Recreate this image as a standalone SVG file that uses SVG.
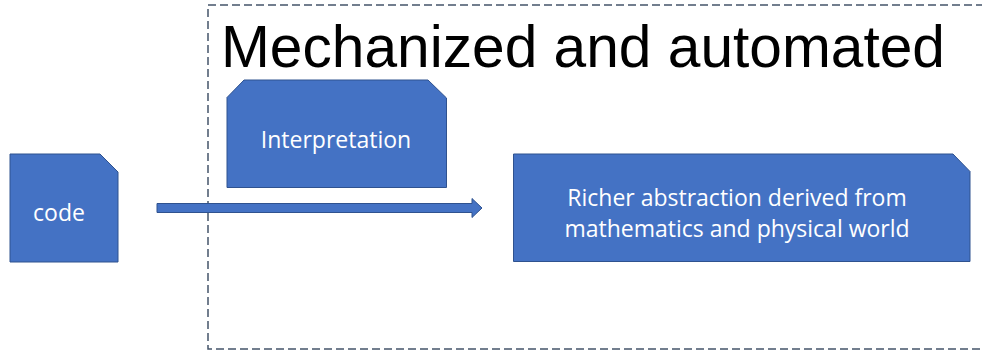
<svg xmlns="http://www.w3.org/2000/svg" width="982" height="352" viewBox="0 0 982 352">
<style>
.shape{fill:#4472C4;stroke:#2F528F;stroke-width:1}
.lbl{font-family:"Open Sans","Liberation Sans",sans-serif;font-size:23px;fill:#FFFFFF;text-anchor:middle}
.title{font-family:"Liberation Sans",Arial,sans-serif;font-size:59px;fill:#000000}
.frame{fill:none;stroke:#44546A;stroke-width:1.5;stroke-dasharray:8 4}
</style>
<rect id="frame" class="frame" x="208" y="5" width="790" height="344"/>
<text class="title" x="221" y="67" textLength="724" lengthAdjust="spacingAndGlyphs">Mechanized and automated</text>
<g id="connectors">
<polygon class="shape" points="157,203.5 472,203.5 472,198.5 482,208 472,217.5 472,212.5 157,212.5"/>
</g>
<g id="code">
<polygon class="shape" points="10,154 100,154 118,172 118,262 10,262"/>
<text class="lbl" x="59" y="221">code</text>
</g>
<g id="interpretation">
<polygon class="shape" points="244,80 428,80 446.5,98 446.5,187.5 227,187.5 227,97.5"/>
<text class="lbl" x="336" y="148">Interpretation</text>
</g>
<g id="richer">
<polygon class="shape" points="513.5,154 953,154 970,171.5 970,261.5 513.5,261.5"/>
<text class="lbl" x="737" y="206">Richer abstraction derived from</text>
<text class="lbl" x="737" y="237">mathematics and physical world</text>
</g>
</svg>
